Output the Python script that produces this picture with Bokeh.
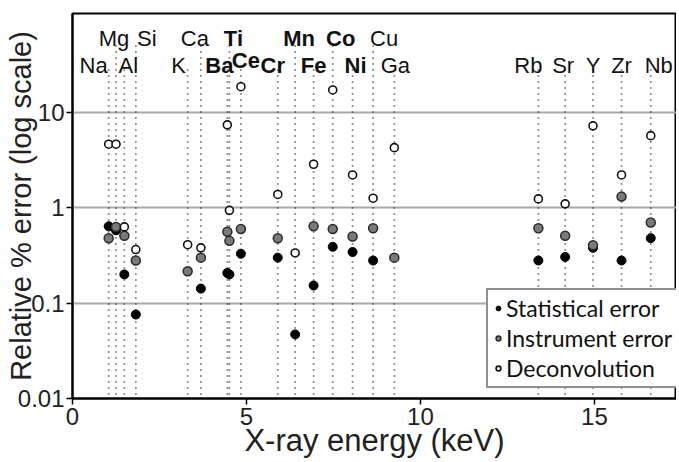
import numpy as np
from bokeh.plotting import figure
from bokeh.models import Range1d, FixedTicker, Legend, LegendItem, ColumnDataSource
from bokeh.core.properties import value
from bokeh.embed import file_html
from bokeh.resources import INLINE

nan = float("nan")

# ---- data ----
elements = ["Na", "Mg", "Al", "Si", "K", "Ca", "Ba", "Ti", "Ce", "Cr", "Mn",
            "Fe", "Co", "Ni", "Cu", "Ga", "Rb", "Sr", "Y", "Zr", "Nb"]
energy_kev = [1.04, 1.25, 1.49, 1.82, 3.31, 3.69, 4.45, 4.51, 4.84, 5.90, 6.40,
              6.93, 7.48, 8.05, 8.64, 9.25, 13.39, 14.16, 14.96, 15.78, 16.62]
statistical_error = [0.64, 0.58, 0.20, 0.076, nan, 0.142, 0.207, 0.20, 0.33, 0.30, 0.047,
                     0.153, 0.39, 0.344, 0.28, nan, 0.28, 0.305, 0.38, 0.28, 0.48]
instrument_error = [0.48, 0.63, 0.51, 0.28, 0.216, 0.30, 0.56, 0.45, 0.60, 0.48, nan,
                    0.64, 0.60, 0.50, 0.61, 0.30, 0.61, 0.51, 0.405, 1.31, 0.70]
deconvolution = [4.64, 4.64, 0.63, 0.365, 0.41, 0.38, 7.41, 0.94, 18.6, 1.38, 0.336,
                 2.86, 17.2, 2.21, 1.26, 4.27, 1.24, 1.10, 7.23, 2.21, 5.71]
bold_elements = ["Ba", "Ti", "Ce", "Cr", "Mn", "Fe", "Co", "Ni"]
x_ticks = [0, 5, 10, 15]
y_ticks = [0.01, 0.1, 1, 10]
y_tick_labels = ["0.01", "0.1", "1", "10"]

# ---- layout helpers (label rows / offsets are styling, not data) ----
label_row = [2, 1, 2, 1, 2, 1, 2, 1, 3, 2, 1, 2, 1, 2, 1, 2, 2, 2, 2, 2, 2]
label_dx = [-15, -2, 4, 11, -9, -6, -8, 4, 5, -5, 4, 0, 8, 3, 11, 1, -10, -2, 0, 0, 8]

Y0, Y1 = 0.01, 109.0
FR_TOP, FR_BOT = 13.0, 398.0  # page px of frame


def page_y(py):
    lo, hi = np.log10(Y0), np.log10(Y1)
    return 10 ** (lo + (FR_BOT - py) / (FR_BOT - FR_TOP) * (hi - lo))


row_base = {1: page_y(38), 2: page_y(65), 3: page_y(60)}
row_line_top = {1: page_y(40), 2: page_y(68), 3: page_y(65)}

p = figure(width=676, height=460, y_axis_type="log",
           x_range=Range1d(0, 17.36), y_range=Range1d(Y0, Y1),
           output_backend="svg", toolbar_location=None,
           min_border_left=72, min_border_right=0, min_border_top=13, min_border_bottom=56)

p.background_fill_color = "white"
p.outline_line_color = "black"
p.outline_line_width = 2

# grid
p.xgrid.visible = False
p.ygrid.grid_line_color = "#a8a8a8"
p.ygrid.grid_line_width = 2

# axes
for ax in (p.xaxis[0], p.yaxis[0]):
    ax.axis_line_color = "black"
    ax.axis_line_width = 2
    ax.major_tick_line_color = "black"
    ax.major_tick_line_width = 1.5
    ax.major_tick_in = 0
    ax.major_tick_out = 6
    ax.minor_tick_line_color = None
    ax.major_label_text_font = "Liberation Sans"
    ax.major_label_text_font_size = "24px"
    ax.major_label_text_color = "#222222"
    ax.axis_label_text_font = "Liberation Sans"
    ax.axis_label_text_font_style = "normal"
    ax.axis_label_text_color = "#222222"

p.xaxis.ticker = FixedTicker(ticks=x_ticks)
p.xaxis.axis_label = "X-ray energy (keV)"
p.xaxis.axis_label_text_font_size = "31px"
p.xaxis.major_label_standoff = 3
p.xaxis.axis_label_standoff = -5

p.yaxis.ticker = FixedTicker(ticks=y_ticks)
p.yaxis.major_label_overrides = {t: s for t, s in zip(y_ticks, y_tick_labels)}
p.yaxis.axis_label = "Relative % error (log scale)"
p.yaxis.axis_label_text_font_size = "29px"
p.yaxis.major_label_standoff = 2
p.yaxis.axis_label_standoff = -22

# dotted element lines
seg = ColumnDataSource(dict(
    x=energy_kev,
    y0=[page_y(394)] * len(energy_kev),
    y1=[row_line_top[r] for r in label_row],
))
p.segment(x0="x", y0="y0", x1="x", y1="y1", source=seg,
          line_color="#222222", line_width=1.7, line_dash="1 5")

# element labels
lab = ColumnDataSource(dict(
    x=energy_kev,
    y=[row_base[r] for r in label_row],
    text=elements,
    dx=label_dx,
    style=["bold" if e in bold_elements else "normal" for e in elements],
))
p.text(x="x", y="y", text="text", x_offset="dx", source=lab,
       text_font=value("Liberation Sans"), text_font_size="22px",
       text_font_style="style", text_align="center", text_baseline="alphabetic",
       text_color="#111111")

src = ColumnDataSource(dict(x=energy_kev, s=statistical_error,
                            i=instrument_error, d=deconvolution))
r_stat = p.scatter(x="x", y="s", source=src, size=9, marker="circle",
                   fill_color="black", line_color="black", line_width=1)
r_inst = p.scatter(x="x", y="i", source=src, size=9, marker="circle",
                   fill_color="#7a7a7a", line_color="#2a2a2a", line_width=1.5)
r_dec = p.scatter(x="x", y="d", source=src, size=8, marker="circle",
                  fill_color="white", line_color="#111111", line_width=1.6)

legend = Legend(items=[
    LegendItem(label="Statistical error", renderers=[r_stat]),
    LegendItem(label="Instrument error", renderers=[r_inst]),
    LegendItem(label="Deconvolution", renderers=[r_dec]),
], location=(414, 10))
legend.border_line_color = "#222222"
legend.border_line_width = 2
legend.background_fill_color = "white"
legend.background_fill_alpha = 1
legend.label_text_font = "Lato"
legend.label_text_font_size = "23px"
legend.label_text_color = "#111111"
legend.glyph_width = 12
legend.glyph_height = 28
legend.label_height = 28
legend.label_standoff = 2
legend.spacing = 2
legend.padding = 4
legend.margin = 0
p.add_layout(legend)

open("out.html", "w").write(file_html(p, INLINE))
